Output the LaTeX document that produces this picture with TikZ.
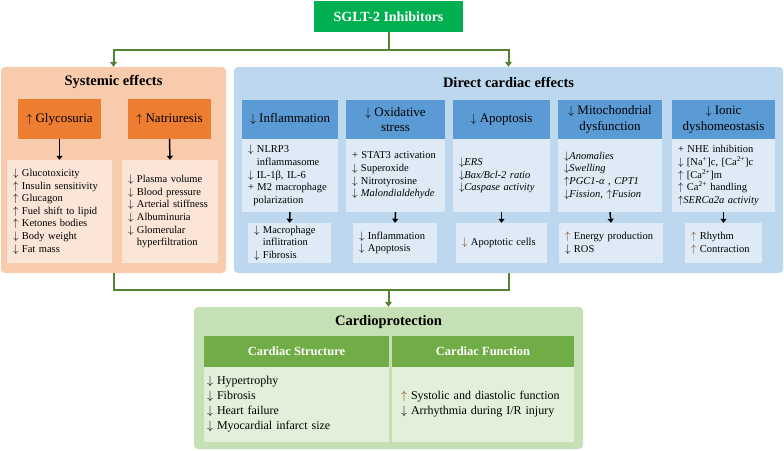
\documentclass[tikz,border=0pt]{standalone}
\usepackage{fontspec}
\setmainfont{Liberation Serif}
\usepackage{amsmath}
\usetikzlibrary{arrows.meta}

\definecolor{sgltgreen}{HTML}{00B050}
\definecolor{linegreen}{HTML}{548235}
\definecolor{sysback}{HTML}{F8CBAD}
\definecolor{syshead}{HTML}{ED7D31}
\definecolor{syslist}{HTML}{FBE5D6}
\definecolor{dirback}{HTML}{BDD7EE}
\definecolor{dirhead}{HTML}{5B9BD5}
\definecolor{dirlist}{HTML}{DEEBF7}
\definecolor{protback}{HTML}{C5E0B4}
\definecolor{prothead}{HTML}{70AD47}
\definecolor{protlist}{HTML}{E2F0D9}
\definecolor{arrbrown}{HTML}{843C0C}

\newcommand{\dnarr}{$\downarrow$}
\newcommand{\uparr}{$\uparrow$}

\begin{document}
\begin{tikzpicture}[x=1pt,y=-1pt,
    outer/.style={rounded corners=4pt, inner sep=0pt},
    head/.style={inner sep=0pt, align=center, font=\fontsize{13}{15.6}\selectfont},
    lbox/.style={align=left, inner xsep=6pt, inner ysep=0pt, font=\fontsize{10.5}{12.6}\selectfont},
    title/.style={inner sep=0pt, font=\bfseries\fontsize{14.5}{17}\selectfont},
    sized/.style 2 args={minimum width=#1, minimum height=#2},
    flow/.style={draw=linegreen, line width=2pt, -{Triangle[width=7pt,length=5pt]}},
    down/.style={draw=black, line width=1.5pt, -{Triangle[width=6pt,length=4pt]}}]
      \useasboundingbox (0,0) rectangle (784,450);
      %(top)
      \node[fill=sgltgreen, text=white, sized={149pt}{31pt}, inner sep=0pt,
        font=\bfseries\fontsize{14}{17}\selectfont] (sglt) at (388.5,16.5) {SGLT-2 Inhibitors};
      %(systemic)
      \begin{scope}
        \node[outer, fill=sysback, sized={225pt}{206pt}] (sys) at (113.5,170) {};
        \node[title] (systitle) at (113.5,82) {Systemic effects};
        \node[head, fill=syshead, sized={83pt}{40pt}] (glyco) at (59.5,119) {\uparr\ Glycosuria};
        \node[head, fill=syshead, sized={83pt}{40pt}] (natri) at (169.5,119) {\uparr\ Natriuresis};
        \node[lbox, fill=syslist, text width=93pt, minimum height=103pt] (glylist) at (59.5,211.5)
          {\dnarr\ Glucotoxicity\\ \uparr\ Insulin sensitivity\\ \uparr\ Glucagon\\
           \uparr\ Fuel shift to lipid\\ \uparr\ Ketones bodies\\ \dnarr\ Body weight\\ \dnarr\ Fat mass};
        \node[lbox, fill=syslist, text width=84pt, minimum height=103pt] (natlist) at (170,211.5)
          {\dnarr\ Plasma volume\\ \dnarr\ Blood pressure\\ \dnarr\ Arterial stiffness\\
           \dnarr\ Albuminuria\\ \dnarr\ Glomerular\\ \phantom{\dnarr}\ hyperfiltration};
        \draw[down] (glyco.south) -- (glylist.north);
        \draw[down] (natri.south) -- (natlist.north);
      \end{scope}
      %(direct)
      \begin{scope}
        \node[outer, fill=dirback, sized={549pt}{206pt}] (cardiac) at (508.5,170) {};
        \node[title] (dirtitle) at (508.5,82) {Direct cardiac effects};
        % headers
        \node[head, fill=dirhead, sized={96pt}{39pt}] (inflhead) at (290,119.5) {\dnarr\ Inflammation};
        \node[head, fill=dirhead, sized={99pt}{39pt}] (oxihead) at (395.5,119.5) {\dnarr\ Oxidative\\stress};
        \node[head, fill=dirhead, sized={97pt}{39pt}] (apohead) at (501.5,119.5) {\dnarr\ Apoptosis};
        \node[head, fill=dirhead, sized={104pt}{39pt}] (mitohead) at (610,119.5) {\dnarr\ Mitochondrial\\dysfunction};
        \node[head, fill=dirhead, sized={103pt}{39pt}] (ionhead) at (723.5,119.5) {\dnarr\ Ionic\\dyshomeostasis};
        % contents
        \node[lbox, fill=dirlist, text width=84pt, minimum height=73pt] (infllist) at (290,175.5)
          {\dnarr\ NLRP3\\ \phantom{\dnarr}\ inflammasome\\ \dnarr\ IL-1β, IL-6\\
           + M2 macrophage\\ \hspace*{0.5em}polarization};
        \node[lbox, fill=dirlist, text width=87pt, minimum height=73pt] (oxilist) at (395.5,175.5)
          {+ STAT3 activation\\ \dnarr\ Superoxide\\ \dnarr\ Nitrotyrosine\\ \dnarr\ \textit{Malondialdehyde}};
        \node[lbox, fill=dirlist, text width=85pt, minimum height=73pt] (apolist) at (501.5,175.5)
          {\itshape \dnarr ERS\\ \dnarr Bax/Bcl-2 ratio\\ \dnarr Caspase activity};
        \node[lbox, fill=dirlist, text width=92pt, minimum height=73pt] (mitolist) at (610,175.5)
          {\itshape \dnarr Anomalies\\ \dnarr Swelling\\ \uparr PGC1-α , CPT1\\ \dnarr Fission, \uparr Fusion};
        \node[lbox, fill=dirlist, text width=91pt, minimum height=73pt] (ionlist) at (723.5,175.5)
          {+ NHE inhibition\\ \dnarr\ [Na\textsuperscript{+}]c, [Ca\textsuperscript{2+}]c\\
           \uparr\ [Ca\textsuperscript{2+}]m\\ \uparr\ Ca\textsuperscript{2+} handling\\ \uparr\textit{SERCa2a activity}};
        % outcomes
        \node[lbox, fill=dirlist, text width=71pt, minimum height=40pt] (inflout) at (289.5,243)
          {\dnarr\ Macrophage\\ \phantom{\dnarr}\ inflitration\\ \dnarr\ Fibrosis};
        \node[lbox, fill=dirlist, text width=72pt, minimum height=40pt] (oxiout) at (395,243)
          {\dnarr\ Inflammation\\ \dnarr\ Apoptosis};
        \node[lbox, fill=dirlist, text width=79pt, minimum height=40pt] (apoout) at (501.5,243)
          {{\color{arrbrown}\dnarr}\ Apoptotic cells};
        \node[lbox, fill=dirlist, text width=92pt, minimum height=40pt] (mitoout) at (611,243)
          {{\color{arrbrown}\uparr}\ Energy production\\ \dnarr\ ROS};
        \node[lbox, fill=dirlist, text width=65pt, minimum height=40pt] (ionout) at (723.5,243)
          {{\color{arrbrown}\uparr}\ Rhythm\\ {\color{arrbrown}\uparr}\ Contraction};
        \draw[down] (infllist.south) -- (inflout.north);
        \draw[down] (oxilist.south) -- (oxiout.north);
        \draw[down] (apolist.south) -- (apoout.north);
        \draw[down] (mitolist.south) -- (mitoout.north);
        \draw[down] (ionlist.south) -- (ionout.north);
      \end{scope}
      %(cardioprotection)
      \begin{scope}
        \node[outer, fill=protback, sized={389pt}{142pt}] (cardio) at (388.5,378) {};
        \node[title] (cardiotitle) at (388.5,322) {Cardioprotection};
        \node[fill=prothead, text=white, sized={185pt}{31pt}, inner sep=0pt,
          font=\bfseries\fontsize{12.5}{15}\selectfont] (strhead) at (296.5,351.5) {Cardiac Structure};
        \node[fill=prothead, text=white, sized={182pt}{31pt}, inner sep=0pt,
          font=\bfseries\fontsize{12.5}{15}\selectfont] (funhead) at (483,351.5) {Cardiac Function};
        \node[lbox, fill=protlist, text width=179pt, inner xsep=3pt, minimum height=75pt,
          font=\fontsize{12}{15}\selectfont] (strbody) at (296.5,404.5)
          {\dnarr\ Hypertrophy\\ \dnarr\ Fibrosis\\ \dnarr\ Heart failure\\ \dnarr\ Myocardial infarct size};
        \node[lbox, fill=protlist, text width=164pt, inner xsep=9pt, minimum height=75pt,
          font=\fontsize{12}{15}\selectfont] (funbody) at (483,404.5)
          {{\color{arrbrown}\uparr}\ Systolic and diastolic function\\ \dnarr\ Arrhythmia during I/R injury};
      \end{scope}
      %(connectors)
      \coordinate (split) at (388.5,50);
      \coordinate (merge) at (388.5,290);
      \draw[flow,-] (sglt.south) -- (split);
      \draw[flow] (split) -| (sys.north);
      \draw[flow] (split) -| (cardiac.north);
      \draw[flow,-] (sys.south) |- (merge);
      \draw[flow,-] (cardiac.south) |- (merge);
      \draw[flow] (merge) -- (cardio.north);
\end{tikzpicture}
\end{document}
